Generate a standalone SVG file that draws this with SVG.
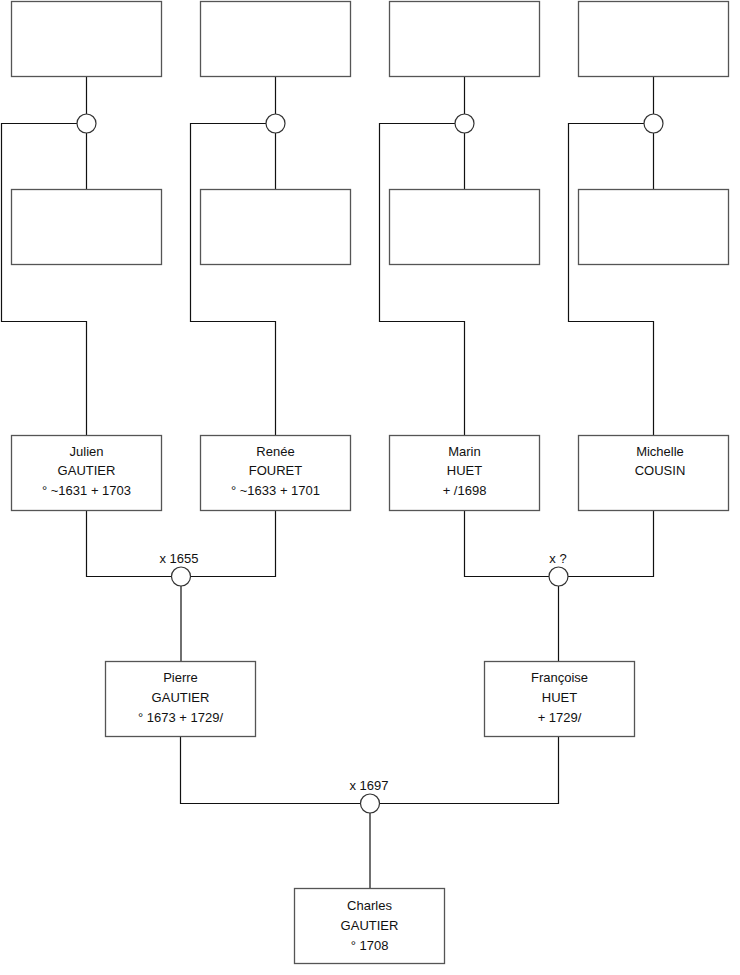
<svg xmlns="http://www.w3.org/2000/svg" width="740" height="975" viewBox="0 0 740 975">
<style>
.box{fill:#fff;stroke:#555;stroke-width:1.3}
.ln{fill:none;stroke:#111;stroke-width:1.2}
.ring{fill:#fff;stroke:#333;stroke-width:1.2}
text{font-family:"Liberation Sans",Arial,sans-serif;font-size:13px;fill:#111;text-anchor:middle}
</style>
<rect width="740" height="975" fill="#fff"/>
<g id="connectors">
<path class="ln" d="M86.5 76V114M86.5 133V189M77 123.5H1.5V321.5H86.5V435"/>
<path class="ln" d="M275.5 76V114M275.5 133V189M266 123.5H190.5V321.5H275.5V435"/>
<path class="ln" d="M464.5 76V114M464.5 133V189M455 123.5H379.5V321.5H464.5V435"/>
<path class="ln" d="M653.5 76V114M653.5 133V189M644 123.5H568.5V321.5H653.5V435"/>
<path class="ln" d="M86.5 510V576.5H171.5M190.5 576.5H275.5V510M181 586V661"/>
<path class="ln" d="M464.5 510V576.5H549M568 576.5H653.5V510M558.5 586V661"/>
<path class="ln" d="M180.5 737V803.5H360.5M379.5 803.5H558.5V737M370 813V888"/>
</g>
<g id="m1"><circle class="ring" cx="86.5" cy="123.5" r="9.5"/></g>
<g id="m2"><circle class="ring" cx="275.5" cy="123.5" r="9.5"/></g>
<g id="m3"><circle class="ring" cx="464.5" cy="123.5" r="9.5"/></g>
<g id="m4"><circle class="ring" cx="653.5" cy="123.5" r="9.5"/></g>
<g id="m5"><circle class="ring" cx="181" cy="576.5" r="9.5"/><text x="179" y="562.5">x 1655</text></g>
<g id="m6"><circle class="ring" cx="558.5" cy="576.5" r="9.5"/><text x="558" y="562.5">x ?</text></g>
<g id="m7"><circle class="ring" cx="370" cy="803.5" r="9.5"/><text x="369" y="789.5">x 1697</text></g>
<g id="b1"><rect class="box" x="11.5" y="1.5" width="150" height="75"/></g>
<g id="b2"><rect class="box" x="200.5" y="1.5" width="150" height="75"/></g>
<g id="b3"><rect class="box" x="389.5" y="1.5" width="150" height="75"/></g>
<g id="b4"><rect class="box" x="578.5" y="1.5" width="150" height="75"/></g>
<g id="b5"><rect class="box" x="11.5" y="189.5" width="150" height="75"/></g>
<g id="b6"><rect class="box" x="200.5" y="189.5" width="150" height="75"/></g>
<g id="b7"><rect class="box" x="389.5" y="189.5" width="150" height="75"/></g>
<g id="b8"><rect class="box" x="578.5" y="189.5" width="150" height="75"/></g>
<g id="julien"><rect class="box" x="11.5" y="435.5" width="150" height="75"/>
<text x="86.5" y="455.5">Julien</text><text x="86.5" y="475">GAUTIER</text><text x="86.5" y="495">° ~1631 + 1703</text></g>
<g id="renee"><rect class="box" x="200.5" y="435.5" width="150" height="75"/>
<text x="275.5" y="455.5">Renée</text><text x="275.5" y="475">FOURET</text><text x="275.5" y="495">° ~1633 + 1701</text></g>
<g id="marin"><rect class="box" x="389.5" y="435.5" width="150" height="75"/>
<text x="464.5" y="455.5">Marin</text><text x="464.5" y="475">HUET</text><text x="464.5" y="495">+ /1698</text></g>
<g id="michelle"><rect class="box" x="578.5" y="435.5" width="150" height="75"/>
<text x="660" y="455.5">Michelle</text><text x="660" y="475">COUSIN</text></g>
<g id="pierre"><rect class="box" x="105.5" y="661.5" width="150" height="75"/>
<text x="180.5" y="681.5">Pierre</text><text x="180.5" y="701.5">GAUTIER</text><text x="180.5" y="721.5">° 1673 + 1729/</text></g>
<g id="francoise"><rect class="box" x="484.5" y="661.5" width="150" height="75"/>
<text x="559.5" y="681.5">Françoise</text><text x="559.5" y="701.5">HUET</text><text x="559.5" y="721.5">+ 1729/</text></g>
<g id="charles"><rect class="box" x="294.5" y="888.5" width="150" height="75"/>
<text x="369.5" y="909.5">Charles</text><text x="369.5" y="929.5">GAUTIER</text><text x="369.5" y="949.5">° 1708</text></g>
</svg>
